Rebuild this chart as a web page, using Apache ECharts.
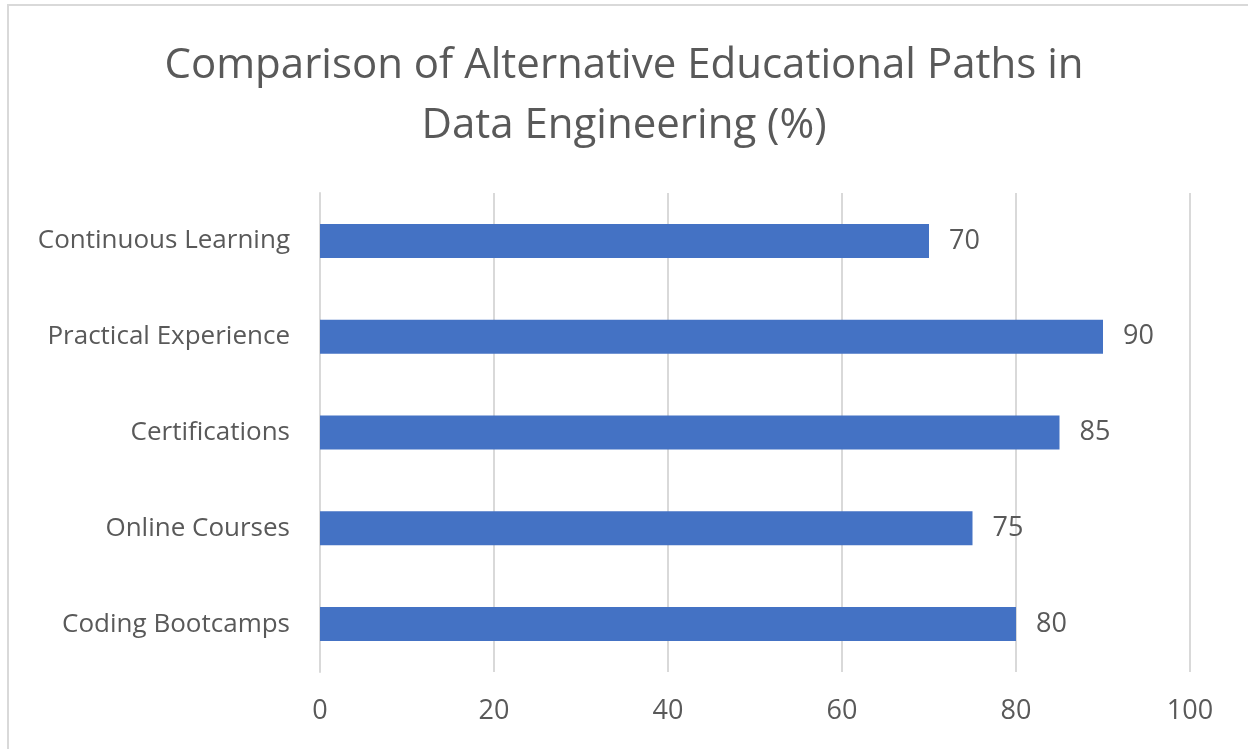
<!DOCTYPE html>
<html>
<head>
<meta charset="utf-8">
<script src="https://cdn.jsdelivr.net/npm/echarts@6/dist/echarts.min.js"></script>
<style>
html,body{margin:0;padding:0;background:#fff;}
#c{width:1248px;height:749px;}
</style>
</head>
<body>
<div id="c"></div>
<script>
const categories = ["Coding Bootcamps", "Online Courses", "Certifications", "Practical Experience", "Continuous Learning"];
const values = [80, 75, 85, 90, 70];
const xTicks = { min: 0, max: 100, interval: 20 };
const titleText = "Comparison of Alternative Educational Paths in\nData Engineering (%)";

const chart = echarts.init(document.getElementById('c'));
const font = "'Open Sans', 'Noto Sans', sans-serif";
chart.setOption({
  animation: false,
  backgroundColor: '#ffffff',
  graphic: [{
    type: 'rect',
    shape: { x: 8, y: 5, width: 1300, height: 800 },
    style: { fill: 'none', stroke: '#d9d9d9', lineWidth: 2 },
    silent: true
  }],
  title: {
    text: titleText,
    left: 'center',
    top: 36,
    padding: 0,
    textStyle: { fontFamily: font, fontSize: 42, fontWeight: 'normal', color: '#595959', lineHeight: 60 }
  },
  grid: { left: 320, right: 58, top: 193, bottom: 77, containLabel: false },
  xAxis: {
    type: 'value',
    min: xTicks.min, max: xTicks.max, interval: xTicks.interval,
    axisLine: { show: false },
    axisTick: { show: false },
    splitLine: { show: true, lineStyle: { color: '#d9d9d9', width: 2 } },
    axisLabel: { fontFamily: font, fontSize: 27, color: '#595959', margin: 26 }
  },
  yAxis: {
    type: 'category',
    data: categories,
    axisLine: { show: true, lineStyle: { color: '#d9d9d9', width: 2 } },
    axisTick: { show: false },
    axisLabel: { fontFamily: font, fontSize: 26, color: '#595959', margin: 30 }
  },
  series: [{
    type: 'bar',
    data: values,
    barWidth: 34,
    itemStyle: { color: '#4472c4' },
    label: { show: true, position: 'right', distance: 20, fontFamily: font, fontSize: 27, color: '#595959' }
  }]
});
</script>
</body>
</html>
